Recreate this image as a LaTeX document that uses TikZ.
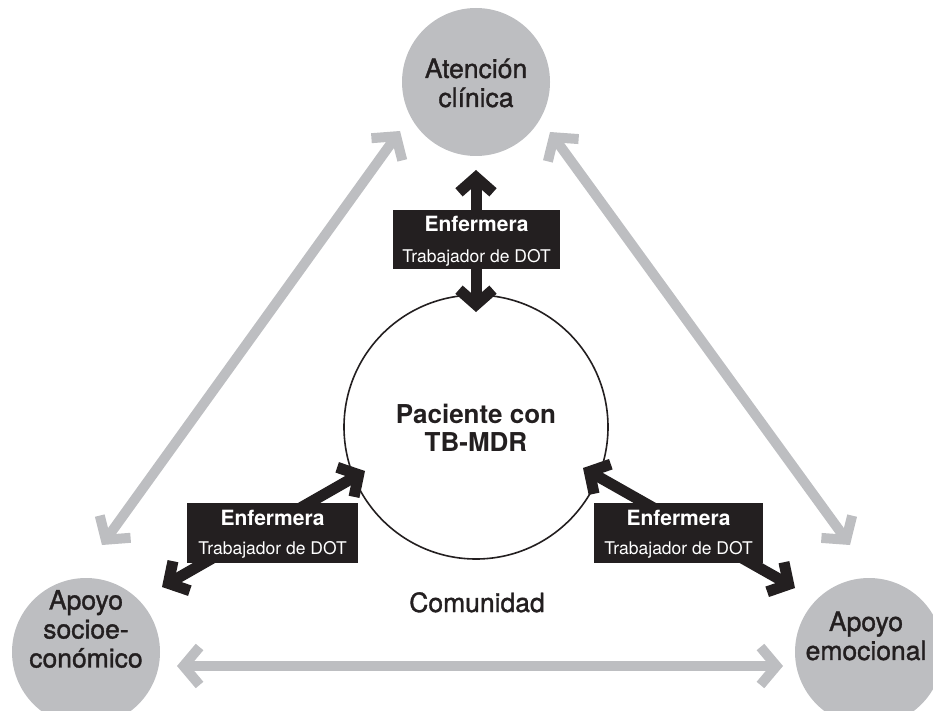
\documentclass[tikz,border=0pt]{standalone}
\usepackage{fontspec}
\setmainfont{TeX Gyre Heros}
\newfontfamily\medfont[FakeBold=1.3]{TeX Gyre Heros}
\usetikzlibrary{arrows.meta}
\definecolor{lgray}{HTML}{BDBEC1}
\definecolor{ink}{HTML}{231F20}

\begin{document}
\begin{tikzpicture}[x=1pt,y=-1pt,
  graylink/.style={draw=lgray, line width=10pt,
    {Straight Barb[length=16pt,width=38pt]}-{Straight Barb[length=16pt,width=38pt]}},
  blacklink/.style={draw=ink, line width=11pt,
    {Straight Barb[length=15pt,width=34pt]}-{Straight Barb[length=15pt,width=34pt]}},
  topic/.style={circle, fill=lgray, minimum size=148pt, inner sep=0pt},
  topictext/.style={align=center, text=ink, inner sep=0pt,
    font=\fontsize{26.5}{29}\selectfont\medfont},
  rolebox/.style={fill=ink, minimum width=169pt, minimum height=60pt, inner sep=0pt},
  roletitle/.style={anchor=base, text=white, inner sep=0pt,
    font=\fontsize{21}{24}\selectfont\bfseries},
  rolesub/.style={anchor=base, text=white, inner sep=0pt,
    font=\fontsize{17.5}{20}\selectfont}
]
\useasboundingbox (0,0) rectangle (933,711);

% outer support circles
\node[topic] (clin)  at (476,82)  {};
\node[topic] (socio) at (86,652)  {};
\node[topic] (emo)   at (869,652) {};

\node[topictext] (clinT)  at (476,83)  {Atención\\clínica};
\node[topictext] (socioT) at (86,629)  {Apoyo\\socioe-\\conómico};
\node[topictext] (emoT)   at (866,636) {Apoyo\\emocional};

% grey two-way links between the supports
\coordinate (gA1) at (102,545);
\coordinate (gA2) at (400,131);
\coordinate (gB1) at (550,132);
\coordinate (gB2) at (850,545);
\coordinate (gC1) at (177,666);
\coordinate (gC2) at (783,666);
\draw[graylink] (gA1) -- (gA2);
\draw[graylink] (gB1) -- (gB2);
\draw[graylink] (gC1) -- (gC2);

% patient in the middle
\node[circle, draw=ink, line width=1.6pt, fill=white, minimum size=264pt, inner sep=0pt]
  (pac) at (476,427) {};
\node[align=center, text=ink, inner sep=0pt, font=\fontsize{26}{28}\selectfont\bfseries]
  (pacT) at (476,428) {Paciente con\\TB-MDR};

\node[anchor=base, text=ink, inner sep=0pt, font=\fontsize{26.5}{29}\selectfont\medfont]
  (com) at (477,612) {Comunidad};

% black links carried by the nurse / DOT worker
\coordinate (kT1) at (476,170);
\coordinate (kT2) at (476,312);
\coordinate (kL1) at (365,471);
\coordinate (kL2) at (162,587);
\coordinate (kR1) at (583,468);
\coordinate (kR2) at (795,588);
\draw[blacklink] (kT1) -- (kT2);
\draw[blacklink] (kL1) -- (kL2);
\draw[blacklink] (kR1) -- (kR2);

% nurse / DOT worker boxes
\node[rolebox, minimum width=167pt, minimum height=59pt] (bTop) at (476.5,239.5) {};
\node[rolebox, minimum width=171pt] (bLeft)  at (272.5,533) {};
\node[rolebox] (bRight) at (678.5,533) {};

\node[roletitle] (tTop) at ([yshift=-22pt]bTop.north) {Enfermera};
\node[rolesub]   (sTop) at ([yshift=-53pt]bTop.north) {Trabajador de DOT};
\node[roletitle] (tLeft) at ([yshift=-23pt]bLeft.north) {Enfermera};
\node[rolesub]   (sLeft) at ([yshift=-52pt]bLeft.north) {Trabajador de DOT};
\node[roletitle] (tRight) at ([yshift=-23pt]bRight.north) {Enfermera};
\node[rolesub]   (sRight) at ([yshift=-52pt]bRight.north) {Trabajador de DOT};
\end{tikzpicture}
\end{document}
